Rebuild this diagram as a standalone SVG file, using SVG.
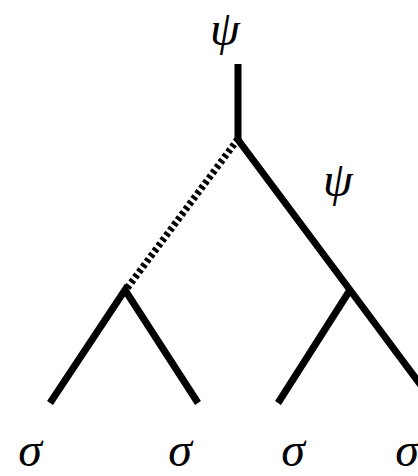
<svg xmlns="http://www.w3.org/2000/svg" width="418" height="476" viewBox="0 0 418 476">
<style>
.e{stroke:#000;stroke-width:7;fill:none;stroke-linecap:butt;stroke-linejoin:miter}
.d{stroke-dasharray:3.5 3}
.t{font-family:"Liberation Serif","Times New Roman",serif;font-style:italic;font-size:48px;fill:#000;text-anchor:middle}
</style>
<rect width="418" height="476" fill="#fff"/>
<g id="connectors">
<line class="e" x1="238" y1="64" x2="238" y2="140"/>
<line class="e d" x1="238" y1="139" x2="125" y2="291"/>
<polyline class="e" points="236,137 350,290 434,403"/>
<polyline class="e" points="50,403 125,290 198,403"/>
<polyline class="e" points="278,403 350,290"/>
</g>
<g id="root"><text class="t" x="225" y="45">ψ</text></g>
<g id="psi-right"><text class="t" x="338" y="196">ψ</text></g>
<g id="leaf1"><text class="t" x="30" y="466">σ</text></g>
<g id="leaf2"><text class="t" x="180" y="466">σ</text></g>
<g id="leaf3"><text class="t" x="293" y="466">σ</text></g>
<g id="leaf4"><text class="t" x="407" y="466">σ</text></g>
</svg>
